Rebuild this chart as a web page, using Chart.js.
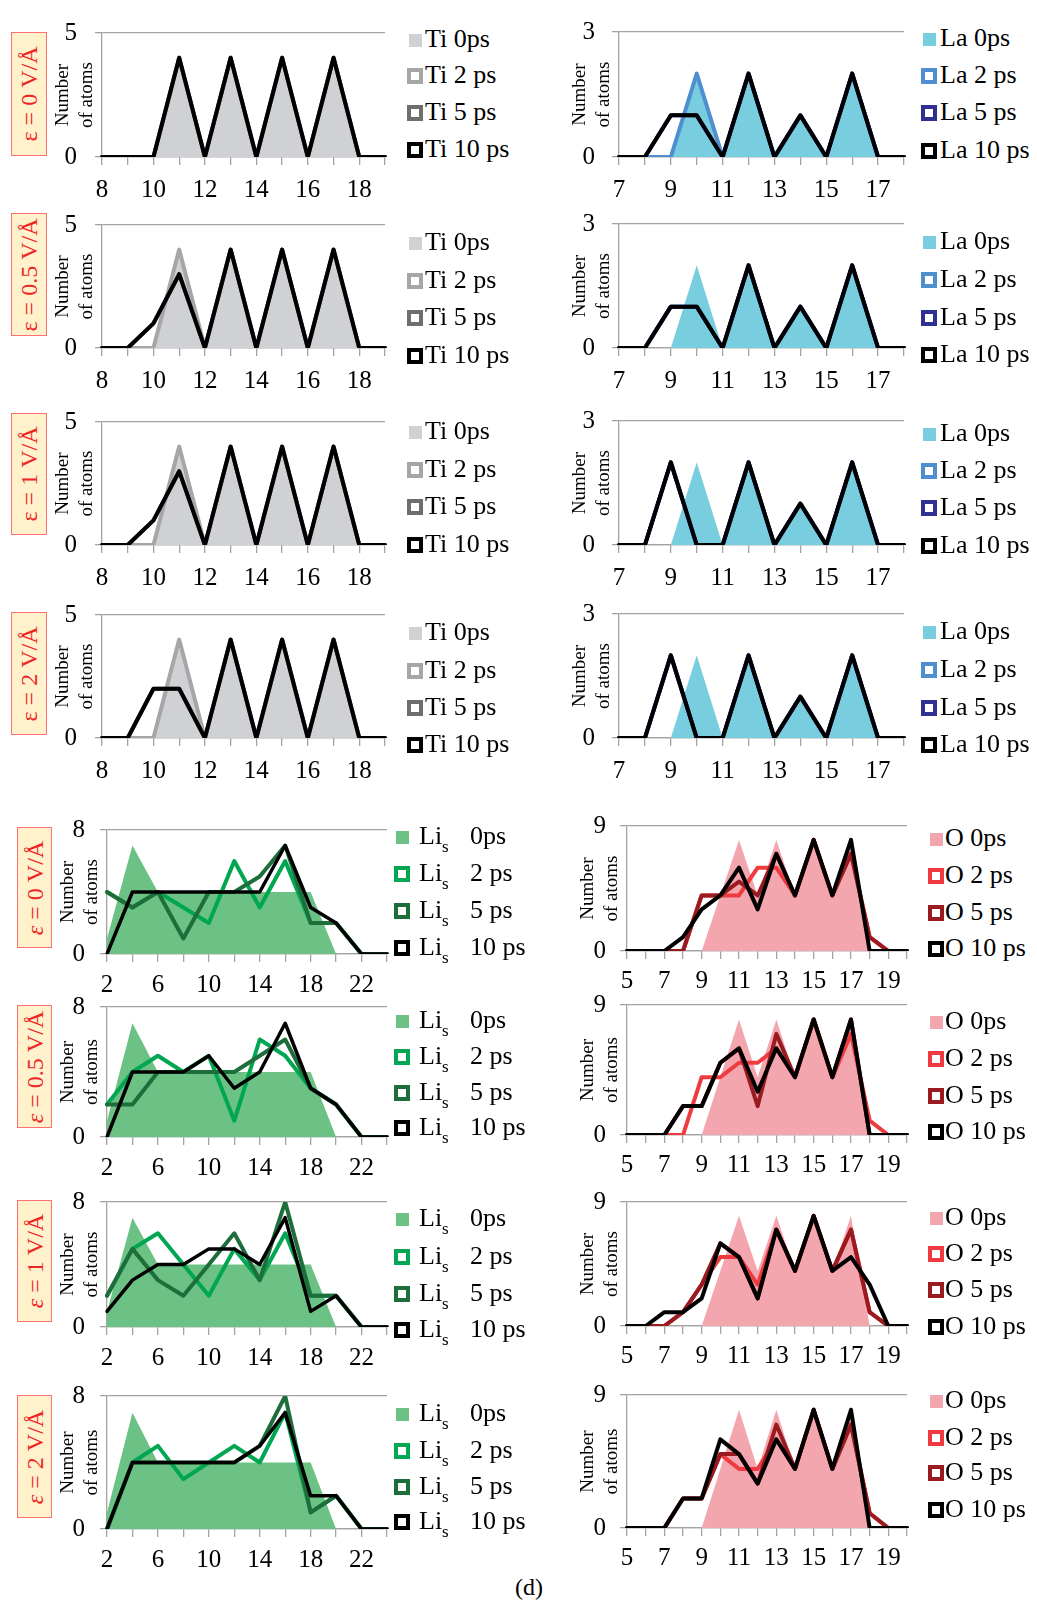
<!DOCTYPE html>
<html>
<head>
<meta charset="utf-8">
<script src="https://cdn.jsdelivr.net/npm/chart.js@4.4.1/dist/chart.umd.min.js"></script>
<style>
  html, body { margin: 0; padding: 0; background: #fff; }
  #fig { position: relative; width: 1037px; height: 1601px; overflow: hidden;
         font-family: "Liberation Serif", "Times New Roman", serif; }
  #fig canvas { position: absolute; }
  .leg { position: absolute; height: 28px; line-height: 28px; font-size: 26px; color: #000; white-space: nowrap; }
  .leg .sub { position: relative; top: 8px; font-size: 17px; }
  .sw { position: absolute; box-sizing: border-box; }
  .field { position: absolute; box-sizing: border-box; background: #fff1cb; border: 1px solid #ff7070; }
  .field span { position: absolute; left: 50%; top: 50%; transform: translate(-50%, -50%) rotate(-90deg);
                white-space: nowrap; color: #f02424; font-size: 24px; }
  #cap { position: absolute; left: 515px; top: 1574px; font-size: 24px; }
</style>
</head>
<body>
<div id="fig"><div id="cap">(d)</div></div>
<script>
// champs appliqués (une ligne de chaque tableau par champ)
const fields = ['0', '0.5', '1', '2'];
const times = ['0ps', '2 ps', '5 ps', '10 ps'];

// ---- Ti ----
const tiDepth = [8, 9, 10, 11, 12, 13, 14, 15, 16, 17, 18, 19];
const tiTicks = [8, 10, 12, 14, 16, 18];
const ti0ps = [0, 0, 0, 4, 0, 4, 0, 4, 0, 4, 0, 0];
const ti2ps = [
    [0, 0, 0, 4, 0, 4, 0, 4, 0, 4, 0, 0],
    [0, 0, 0, 4, 0, 4, 0, 4, 0, 4, 0, 0],
    [0, 0, 0, 4, 0, 4, 0, 4, 0, 4, 0, 0],
    [0, 0, 0, 4, 0, 4, 0, 4, 0, 4, 0, 0]
];
const ti5ps = [
    [0, 0, 0, 4, 0, 4, 0, 4, 0, 4, 0, 0],
    [0, 0, 1, 3, 0, 4, 0, 4, 0, 4, 0, 0],
    [0, 0, 1, 3, 0, 4, 0, 4, 0, 4, 0, 0],
    [0, 0, 2, 2, 0, 4, 0, 4, 0, 4, 0, 0]
];
const ti10ps = [
    [0, 0, 0, 4, 0, 4, 0, 4, 0, 4, 0, 0],
    [0, 0, 1, 3, 0, 4, 0, 4, 0, 4, 0, 0],
    [0, 0, 1, 3, 0, 4, 0, 4, 0, 4, 0, 0],
    [0, 0, 2, 2, 0, 4, 0, 4, 0, 4, 0, 0]
];

// ---- La ----
const laDepth = [7, 8, 9, 10, 11, 12, 13, 14, 15, 16, 17, 18];
const laTicks = [7, 9, 11, 13, 15, 17];
const la0ps = [0, 0, 0, 2, 0, 2, 0, 1, 0, 2, 0, 0];
const la2ps = [
    [0, 0, 0, 2, 0, 2, 0, 1, 0, 2, 0, 0],
    [0, 0, 1, 1, 0, 2, 0, 1, 0, 2, 0, 0],
    [0, 0, 2, 0, 0, 2, 0, 1, 0, 2, 0, 0],
    [0, 0, 2, 0, 0, 2, 0, 1, 0, 2, 0, 0]
];
const la5ps = [
    [0, 0, 1, 1, 0, 2, 0, 1, 0, 2, 0, 0],
    [0, 0, 1, 1, 0, 2, 0, 1, 0, 2, 0, 0],
    [0, 0, 2, 0, 0, 2, 0, 1, 0, 2, 0, 0],
    [0, 0, 2, 0, 0, 2, 0, 1, 0, 2, 0, 0]
];
const la10ps = [
    [0, 0, 1, 1, 0, 2, 0, 1, 0, 2, 0, 0],
    [0, 0, 1, 1, 0, 2, 0, 1, 0, 2, 0, 0],
    [0, 0, 2, 0, 0, 2, 0, 1, 0, 2, 0, 0],
    [0, 0, 2, 0, 0, 2, 0, 1, 0, 2, 0, 0]
];

// ---- Li_s ----
const liDepth = [2, 4, 6, 8, 10, 12, 14, 16, 18, 20, 22, 24];
const liTicks = [2, 6, 10, 14, 18, 22];
const li0ps = [1, 7, 4, 4, 4, 4, 4, 4, 4, 0, 0, 0];
const li2ps = [
    [4, 3, 4, 3, 2, 6, 3, 6, 2, 2, 0, 0],
    [2, 4, 5, 4, 5, 1, 6, 5, 3, 2, 0, 0],
    [2, 5, 6, 4, 2, 5, 3, 6, 2, 2, 0, 0],
    [0, 4, 5, 3, 4, 5, 4, 7, 1, 2, 0, 0]
];
const li5ps = [
    [4, 3, 4, 1, 4, 4, 5, 7, 2, 2, 0, 0],
    [2, 2, 4, 4, 4, 4, 5, 6, 3, 2, 0, 0],
    [2, 5, 3, 2, 4, 6, 3, 8, 2, 2, 0, 0],
    [0, 4, 4, 4, 4, 4, 5, 8, 1, 2, 0, 0]
];
const li10ps = [
    [0, 4, 4, 4, 4, 4, 4, 7, 3, 2, 0, 0],
    [0, 4, 4, 4, 5, 3, 4, 7, 3, 2, 0, 0],
    [1, 3, 4, 4, 5, 5, 4, 7, 1, 2, 0, 0],
    [0, 4, 4, 4, 4, 4, 5, 7, 2, 2, 0, 0]
];

// ---- O ----
const oDepth = [5, 6, 7, 8, 9, 10, 11, 12, 13, 14, 15, 16, 17, 18, 19, 20];
const oTicks = [5, 7, 9, 11, 13, 15, 17, 19];
const o0ps = [0, 0, 0, 0, 0, 4, 8, 4, 8, 4, 8, 4, 8, 0, 0, 0];
const o2ps = [
    [0, 0, 0, 0, 4, 4, 4, 6, 6, 4, 8, 4, 7, 1, 0, 0],
    [0, 0, 0, 0, 4, 4, 5, 5, 6, 4, 8, 4, 7, 1, 0, 0],
    [0, 0, 0, 1, 3, 5, 5, 3, 7, 4, 8, 4, 7, 1, 0, 0],
    [0, 0, 0, 2, 2, 5, 4, 4, 6, 4, 8, 4, 7, 1, 0, 0]
];
const o5ps = [
    [0, 0, 0, 0, 4, 4, 5, 4, 7, 4, 8, 4, 7, 1, 0, 0],
    [0, 0, 0, 2, 2, 5, 6, 2, 7, 4, 8, 4, 8, 0, 0, 0],
    [0, 0, 0, 1, 3, 6, 5, 2, 7, 4, 8, 4, 7, 1, 0, 0],
    [0, 0, 0, 2, 2, 5, 5, 3, 7, 4, 8, 4, 7, 1, 0, 0]
];
const o10ps = [
    [0, 0, 0, 1, 3, 4, 6, 3, 7, 4, 8, 4, 8, 0, 0, 0],
    [0, 0, 0, 2, 2, 5, 6, 3, 6, 4, 8, 4, 8, 0, 0, 0],
    [0, 0, 1, 1, 2, 6, 5, 2, 7, 4, 8, 4, 5, 3, 0, 0],
    [0, 0, 0, 2, 2, 6, 5, 3, 6, 4, 8, 4, 8, 0, 0, 0]
];

const fig = document.getElementById('fig');
const axisGray = '#a3a3a3';
const serif = '"Liberation Serif", "Times New Roman", serif';

// les groupes: données + position sur la page
const groups = [
    { name: 'Ti', cats: tiDepth, ticks: tiTicks, max: 5, d0: ti0ps, d2: ti2ps, d5: ti5ps, d10: ti10ps,
      colors: ['#d0d1d4', '#a6a6a6', '#6e6e6e', '#000000'], lineW: 4, blackW: 4,
      l: 102, r: 387, rows: [[22, 157], [214, 348], [411, 545], [604, 738]], yPad: 18, xPad: 10,
      legSq: 415, legText: 425,
      legRows: [[40, 76, 113, 150], [243, 281, 318, 356], [432, 470, 507, 545], [633, 671, 708, 745]] },
    { name: 'La', cats: laDepth, ticks: laTicks, max: 3, d0: la0ps, d2: la2ps, d5: la5ps, d10: la10ps,
      colors: ['#78cede', '#4f8fd0', '#2e3192', '#000000'], lineW: 4, blackW: 4,
      l: 619, r: 906, rows: [[22, 157], [214, 348], [411, 545], [604, 738]], yPad: 17, xPad: 10,
      legSq: 929, legText: 940,
      legRows: [[39, 76, 113, 151], [242, 280, 318, 355], [434, 471, 508, 546], [632, 670, 708, 745]] },
    { name: 'Li', cats: liDepth, ticks: liTicks, max: 8, d0: li0ps, d2: li2ps, d5: li5ps, d10: li10ps,
      colors: ['#6cc184', '#00a651', '#1e6e3b', '#000000'], lineW: 4, blackW: 3.5,
      l: 107, r: 387, rows: [[822, 954], [999, 1137], [1194, 1327], [1388, 1529]], yPad: 15, xPad: 8,
      legSq: 402, legText: 419, legTime: 470,
      legRows: [[837, 874, 911, 948], [1021, 1057, 1093, 1128], [1219, 1257, 1294, 1330], [1414, 1451, 1487, 1522]] },
    { name: 'O', cats: oDepth, ticks: oTicks, max: 9, d0: o0ps, d2: o2ps, d5: o5ps, d10: o10ps,
      colors: ['#f4a6af', '#ee3b3f', '#9a1b1f', '#000000'], lineW: 4, blackW: 4,
      l: 627, r: 907, rows: [[819, 951], [998, 1135], [1195, 1326], [1388, 1528]], yPad: 14, xPad: 7,
      legSq: 936, legText: 945,
      legRows: [[839, 876, 913, 949], [1022, 1059, 1096, 1132], [1218, 1254, 1290, 1327], [1401, 1438, 1473, 1510]] }
];

// titre de l'axe y sur deux colonnes, comme dans Excel
const yTitle = {
    id: 'yTitle',
    afterDraw(chart) {
        const { ctx, chartArea } = chart;
        const cy = (chartArea.top + chartArea.bottom) / 2;
        ctx.save();
        ctx.font = '19px ' + serif;
        ctx.fillStyle = '#000';
        ctx.textAlign = 'center';
        ctx.textBaseline = 'middle';
        [['Number', 39], ['of atoms', 15]].forEach(([t, dx]) => {
            ctx.save();
            ctx.translate(chartArea.left - dx, cy);
            ctx.rotate(-Math.PI / 2);
            ctx.fillText(t, 0, 0);
            ctx.restore();
        });
        ctx.restore();
    }
};

function addPanel(g, k) {
    const YW = 72, XH = 50, PT = 22, PR = 8;
    const [t, b] = g.rows[k];
    const w = g.r - g.l + YW + PR, h = b - t + PT + XH;
    const canvas = document.createElement('canvas');
    canvas.width = w; canvas.height = h;
    canvas.style.left = (g.l - YW) + 'px';
    canvas.style.top = (t - PT) + 'px';
    canvas.style.width = w + 'px';
    canvas.style.height = h + 'px';
    fig.appendChild(canvas);

    const tickFont = { family: serif, size: 25 };
    const line = (data, color, width, order) => ({
        data: data, borderColor: color, borderWidth: width, fill: false, order: order,
        pointRadius: 0, tension: 0, borderJoinStyle: 'round', borderCapStyle: 'round'
    });

    new Chart(canvas, {
        type: 'line',
        data: {
            labels: g.cats,
            datasets: [
                { data: g.d0, fill: 'origin', backgroundColor: g.colors[0], borderWidth: 0, pointRadius: 0, order: 4 },
                line(g.d2[k], g.colors[1], g.lineW, 3),
                line(g.d5[k], g.colors[2], g.lineW, 2),
                line(g.d10[k], g.colors[3], g.blackW, 1)
            ]
        },
        options: {
            responsive: false,
            animation: false,
            layout: { padding: { top: PT, right: PR, left: 0, bottom: 0 } },
            plugins: { legend: { display: false }, tooltip: { enabled: false } },
            scales: {
                x: {
                    type: 'category',
                    offset: false,
                    grid: { drawOnChartArea: false, drawTicks: true, tickLength: 8, color: axisGray, lineWidth: 1.3 },
                    border: { color: axisGray, width: 1.3 },
                    ticks: {
                        autoSkip: false, maxRotation: 0, minRotation: 0,
                        padding: g.xPad, color: '#000', font: tickFont,
                        callback: (v, i) => g.ticks.includes(g.cats[i]) ? String(g.cats[i]) : ''
                    },
                    afterFit: s => { s.height = XH; }
                },
                y: {
                    min: 0, max: g.max,
                    grid: { color: axisGray, lineWidth: 1.3, tickLength: 7 },
                    border: { color: axisGray, width: 1.3 },
                    ticks: { stepSize: g.max, padding: g.yPad, color: '#000', font: tickFont },
                    afterFit: s => { s.width = YW; }
                }
            }
        },
        plugins: [yTitle]
    });
}

function addLegend(g, k) {
    g.legRows[k].forEach((y, i) => {
        const sw = document.createElement('div');
        sw.className = 'sw';
        if (i === 0) {
            sw.style.width = '13px'; sw.style.height = '13px';
            sw.style.left = (g.legSq - 6.5) + 'px'; sw.style.top = (y - 6.5) + 'px';
            sw.style.background = g.colors[0];
        } else {
            sw.style.width = '16px'; sw.style.height = '16px';
            sw.style.left = (g.legSq - 8) + 'px'; sw.style.top = (y - 8) + 'px';
            sw.style.background = '#fff';
            sw.style.border = '4px solid ' + g.colors[i];
        }
        fig.appendChild(sw);

        const txt = document.createElement('div');
        txt.className = 'leg';
        txt.style.left = g.legText + 'px';
        txt.style.top = (y - 15) + 'px';
        if (g.legTime) {
            txt.innerHTML = 'Li<span class="sub">s</span>';
            const tm = document.createElement('div');
            tm.className = 'leg';
            tm.style.left = g.legTime + 'px';
            tm.style.top = (y - 15) + 'px';
            tm.textContent = times[i];
            fig.appendChild(tm);
        } else {
            txt.textContent = g.name + ' ' + times[i];
        }
        fig.appendChild(txt);
    });
}

// cadres "ε = ... V/Å" à gauche
const fieldBoxesTop = [[32, 156], [213, 336], [413, 535], [612, 735]];
const fieldBoxesBottom = [[827, 948], [1005, 1128], [1200, 1322], [1395, 1518]];

function addField(x, w, box, text, italic) {
    const d = document.createElement('div');
    d.className = 'field';
    d.style.left = x + 'px';
    d.style.top = box[0] + 'px';
    d.style.width = w + 'px';
    d.style.height = (box[1] - box[0]) + 'px';
    const s = document.createElement('span');
    s.innerHTML = (italic ? '<i>ε</i>' : 'ε') + ' = ' + text + ' V/Å';
    d.appendChild(s);
    fig.appendChild(d);
}

fields.forEach((f, k) => {
    addField(11, 36, fieldBoxesTop[k], f, false);
    addField(17, 35, fieldBoxesBottom[k], f, true);
});

groups.forEach(g => {
    fields.forEach((f, k) => {
        addPanel(g, k);
        addLegend(g, k);
    });
});
</script>
</body>
</html>
